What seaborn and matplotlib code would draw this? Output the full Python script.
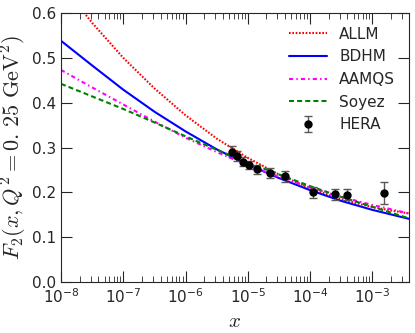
import matplotlib
matplotlib.use("Agg")
import matplotlib.pyplot as plt
import seaborn as sns
import numpy as np
import pandas as pd

logx = [-8.0, -7.5, -7.0, -6.5, -6.0, -5.5, -5.0, -4.5, -4.0, -3.5, -3.0, -2.5, -2.41]
allm_logx = [-7.7, -7.5, -7.0, -6.5, -6.0, -5.5, -5.0, -4.5, -4.0, -3.5, -3.0, -2.5, -2.41]

allm = [0.613, 0.578, 0.500, 0.432, 0.372, 0.320, 0.277, 0.240, 0.209, 0.185, 0.167, 0.155, 0.153]
bdhm = [0.538, 0.483, 0.429, 0.380, 0.336, 0.296, 0.262, 0.232, 0.205, 0.181, 0.161, 0.144, 0.141]
aamqs = [0.473, 0.434, 0.396, 0.358, 0.322, 0.290, 0.260, 0.235, 0.211, 0.190, 0.172, 0.156, 0.153]
soyez = [0.442, 0.414, 0.386, 0.356, 0.325, 0.295, 0.267, 0.240, 0.214, 0.190, 0.168, 0.146, 0.142]

# HERA points
hera_x = [5.5e-6, 6.8e-6, 8.3e-6, 1.05e-5, 1.4e-5, 2.3e-5, 4.0e-5, 1.1e-4, 2.5e-4, 3.9e-4, 1.56e-3]
hera_y = [0.291, 0.281, 0.268, 0.261, 0.251, 0.244, 0.236, 0.200, 0.196, 0.195, 0.199]
hera_err = [0.012, 0.011, 0.010, 0.010, 0.010, 0.011, 0.012, 0.012, 0.012, 0.012, 0.025]

sns.set_style("ticks")
plt.rcParams["font.family"] = ["DejaVu Sans"]
plt.rcParams["mathtext.fontset"] = "dejavusans"
plt.rcParams["xtick.direction"] = "in"
plt.rcParams["ytick.direction"] = "in"

fig = plt.figure(figsize=(4.15, 3.33), dpi=100)
ax = fig.add_axes([0.147, 0.153, 0.8385, 0.808])

curves = [
    ("ALLM", allm_logx, allm, "red", (0, (0.8, 0.8))),
    ("BDHM", logx, bdhm, "blue", "-"),
    ("AAMQS", logx, aamqs, "magenta", (0, (2, 1.5, 0.7, 1.5))),
    ("Soyez", logx, soyez, "green", (0, (2.4, 1.5))),
]
for name, lx, vals, col, ls in curves:
    df = pd.DataFrame({"x": 10.0 ** np.array(lx), "y": vals})
    sns.lineplot(data=df, x="x", y="y", ax=ax, color=col, linestyle=ls,
                 linewidth=1.5, label=name, sort=False, estimator=None)

ax.errorbar(hera_x, hera_y, yerr=hera_err, fmt="o", color="black",
            ecolor="0.35", markersize=5, capsize=3, elinewidth=1, label="HERA")

ax.set_xscale("log")
ax.set_xlim(1e-8, 10 ** -2.41)
ax.set_ylim(0, 0.6)
ax.set_yticks([0.0, 0.1, 0.2, 0.3, 0.4, 0.5, 0.6])
ax.set_yticklabels(["0.0", "0.1", "0.2", "0.3", "0.4", "0.5", "0.6"])
ax.tick_params(which="both", top=True, right=True, labelsize=11)
ax.tick_params(which="major", length=8)
ax.tick_params(which="minor", length=4)

ax.set_xlabel("$x$", fontsize=15, math_fontfamily="cm")
ax.set_ylabel(r"$F_2(x,Q^2=0.\,25\ \mathrm{GeV}^2)$", fontsize=16,
              math_fontfamily="cm", labelpad=2)

ax.legend(loc="upper right", frameon=False, fontsize=11, handlelength=2.5)

fig.savefig("out.png", dpi=100)
